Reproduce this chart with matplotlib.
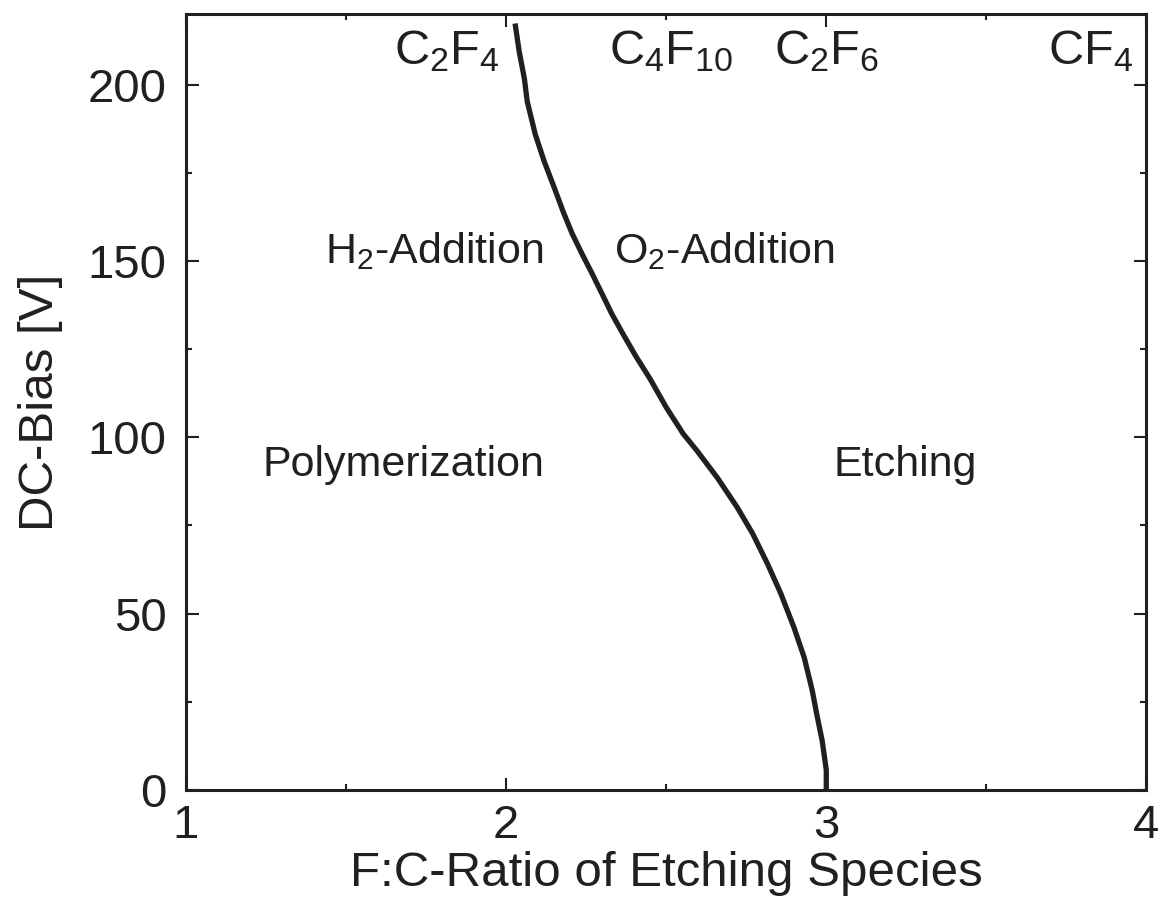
import numpy as np
import matplotlib
matplotlib.use('Agg')
import matplotlib.pyplot as plt

# Style: Arial-like sans, dark ink
plt.rcParams['font.family'] = ['Liberation Sans', 'DejaVu Sans']
plt.rcParams['mathtext.fontset'] = 'custom'
plt.rcParams['mathtext.rm'] = 'Liberation Sans'
plt.rcParams['mathtext.it'] = 'Liberation Sans:italic'
plt.rcParams['mathtext.bf'] = 'Liberation Sans:bold'
INK = '#231f20'

# Boundary between polymerization and etching regimes
fc_ratio = [3.000, 3.000, 2.987, 2.972, 2.956, 2.931, 2.899, 2.858, 2.816,
            2.770, 2.722, 2.660, 2.596, 2.553, 2.500, 2.450, 2.405, 2.365,
            2.330, 2.300, 2.268, 2.237, 2.206, 2.178, 2.151, 2.119, 2.091,
            2.066, 2.057, 2.041, 2.028]
dc_bias = [0.0, 5.7, 14.1, 20.7, 28.3, 37.6, 46.1, 55.7, 64.2,
           72.7, 80.1, 88.5, 96.2, 101.0, 108.5, 116.5, 123.0, 129.3,
           135.0, 140.6, 146.5, 152.0, 157.8, 164.0, 170.6, 178.2, 185.9,
           195.2, 201.7, 209.3, 217.3]

# Etching gases placed at their F:C ratio
species = [r'C$_2$F$_4$', r'C$_4$F$_{10}$', r'C$_2$F$_6$', r'CF$_4$']
species_x = [1.814, 2.516, 3.0, 3.824]
species_y = 205.7

# Region labels (text, x, y)
regions = [(r'H$_2$-Addition', 1.774, 149.4),
           (r'O$_2$-Addition', 2.682, 149.4),
           ('Polymerization', 1.68, 89.1),
           ('Etching', 3.248, 89.1)]

fig = plt.figure(figsize=(11.6, 9.07), dpi=100)
ax = fig.add_axes([0.1603, 0.129, 0.828, 0.8556])

ax.plot(fc_ratio, dc_bias, color=INK, lw=3.8, solid_capstyle='butt',
        solid_joinstyle='round')

for name, x in zip(species, species_x):
    ax.text(x, species_y, name, fontsize=35, color=INK, ha='center', va='baseline')
for name, x, y in regions:
    ax.text(x, y, name, fontsize=31, color=INK, ha='center', va='baseline')

ax.set_xlim(1, 4)
ax.set_ylim(0, 220)
ax.set_xticks([1, 2, 3, 4])
ax.set_xticks([1.5, 2.5, 3.5], minor=True)
ax.set_yticks([0, 50, 100, 150, 200])
ax.set_yticks([25, 75, 125, 175], minor=True)

ax.tick_params(which='both', direction='in', top=True, right=True,
               color=INK, width=1.5, labelcolor=INK, labelsize=34)
ax.tick_params(which='major', length=9)
ax.tick_params(which='minor', length=4.5)
ax.tick_params(axis='x', pad=10)
ax.tick_params(axis='y', pad=14)
for s in ax.spines.values():
    s.set_linewidth(2.2)
    s.set_color(INK)

ax.set_xlabel('F:C-Ratio of Etching Species', fontsize=35.5, color=INK, labelpad=2)
ax.set_ylabel('DC-Bias [V]', fontsize=35.5, color=INK, labelpad=18)

fig.savefig('out.png', dpi=100)
